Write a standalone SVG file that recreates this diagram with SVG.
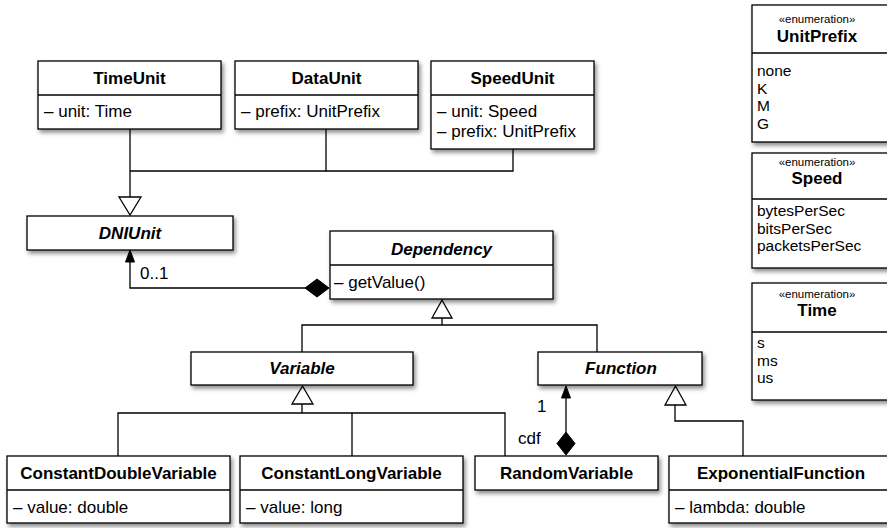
<svg xmlns="http://www.w3.org/2000/svg" width="887" height="528" viewBox="0 0 887 528">
<defs>
<filter id="sh" x="-10%" y="-10%" width="130%" height="140%">
<feDropShadow dx="2" dy="3" stdDeviation="2" flood-color="#000" flood-opacity="0.45"/>
</filter>
</defs>
<style>
.box{fill:#fff;stroke:#000;stroke-width:1.3;filter:url(#sh)}
.div{stroke:#000;stroke-width:1.3;fill:none}
.ln{stroke:#000;stroke-width:1.3;fill:none}
.tri{fill:#fff;stroke:#000;stroke-width:1.3}
.fill{fill:#000;stroke:#000;stroke-width:1}
text{font-family:"Liberation Sans",Arial,Helvetica,sans-serif;fill:#000}
.t{font-size:17px;font-weight:bold;text-anchor:middle}
.ti{font-size:17px;font-weight:bold;font-style:italic;text-anchor:middle}
.a{font-size:17px}
.e{font-size:15.5px}
.st{font-size:11.5px;text-anchor:middle}
</style>
<rect width="887" height="528" fill="#fff"/>

<g id="connectors">
<!-- TimeUnit/DataUnit/SpeedUnit -> DNIUnit -->
<path class="ln" d="M130,129 V197"/>
<path class="ln" d="M326,129 V171 H130"/>
<path class="ln" d="M513,149 V171 H326"/>
<polygon class="tri" points="119,197 141,197 130,215"/>
<!-- Dependency -> DNIUnit association -->
<path class="ln" d="M130,255 V288 H305"/>
<polygon class="fill" points="130,250 125.5,262 134.5,262"/>
<polygon class="fill" points="305,288 317,279 329,288 317,297"/>
<text class="a" x="140" y="279">0..1</text>
<!-- Variable/Function -> Dependency -->
<path class="ln" d="M442,318 V325"/>
<path class="ln" d="M302,352 V325 H597 V352"/>
<polygon class="tri" points="432,318 452,318 442,300"/>
<!-- Variable subclasses -->
<path class="ln" d="M302,404 V413"/>
<path class="ln" d="M118,456 V413 H505 V456"/>
<path class="ln" d="M352,413 V456"/>
<polygon class="tri" points="292,404 313,404 302.5,386"/>
<!-- RandomVariable cdf -> Function -->
<path class="ln" d="M566,392 V432"/>
<polygon class="fill" points="566,386 561.5,398 570.5,398"/>
<polygon class="fill" points="566,432 575,443.5 566,455 557,443.5"/>
<text class="a" x="537" y="412">1</text>
<text class="a" x="518" y="444">cdf</text>
<!-- ExponentialFunction -> Function -->
<path class="ln" d="M675,405 V421 H743 V456"/>
<polygon class="tri" points="665,405 686,405 675.5,386"/>
</g>

<g id="TimeUnit">
<rect class="box" x="38" y="61" width="183" height="68"/>
<line class="div" x1="38" y1="95" x2="221" y2="95"/>
<text class="t" x="129.5" y="84">TimeUnit</text>
<text class="a" x="44" y="117">– unit: Time</text>
</g>

<g id="DataUnit">
<rect class="box" x="235" y="61" width="183" height="68"/>
<line class="div" x1="235" y1="95" x2="418" y2="95"/>
<text class="t" x="326.5" y="84">DataUnit</text>
<text class="a" x="241" y="117">– prefix: UnitPrefix</text>
</g>

<g id="SpeedUnit">
<rect class="box" x="431" y="61" width="163" height="88"/>
<line class="div" x1="431" y1="95" x2="594" y2="95"/>
<text class="t" x="512.5" y="84">SpeedUnit</text>
<text class="a" x="437" y="117">– unit: Speed</text>
<text class="a" x="437" y="137">– prefix: UnitPrefix</text>
</g>

<g id="DNIUnit">
<rect class="box" x="27" y="216" width="206" height="34"/>
<text class="ti" x="130" y="239">DNIUnit</text>
</g>

<g id="Dependency">
<rect class="box" x="330" y="231" width="223" height="68"/>
<line class="div" x1="330" y1="265" x2="553" y2="265"/>
<text class="ti" x="441.5" y="255">Dependency</text>
<text class="a" x="334" y="288">– getValue()</text>
</g>

<g id="Variable">
<rect class="box" x="191" y="352" width="222" height="33"/>
<text class="ti" x="302" y="374">Variable</text>
</g>

<g id="Function">
<rect class="box" x="538" y="352" width="164" height="33"/>
<text class="ti" x="621" y="374">Function</text>
</g>

<g id="ConstantDoubleVariable">
<rect class="box" x="7" y="456" width="223" height="67"/>
<line class="div" x1="7" y1="490" x2="230" y2="490"/>
<text class="t" x="118.5" y="479">ConstantDoubleVariable</text>
<text class="a" x="13" y="513">– value: double</text>
</g>

<g id="ConstantLongVariable">
<rect class="box" x="240" y="456" width="223" height="67"/>
<line class="div" x1="240" y1="490" x2="463" y2="490"/>
<text class="t" x="351.5" y="479">ConstantLongVariable</text>
<text class="a" x="246" y="513">– value: long</text>
</g>

<g id="RandomVariable">
<rect class="box" x="475" y="456" width="183" height="34"/>
<text class="t" x="566.5" y="479">RandomVariable</text>
</g>

<g id="ExponentialFunction">
<rect class="box" x="669" y="456" width="222" height="67"/>
<line class="div" x1="669" y1="490" x2="891" y2="490"/>
<text class="t" x="781" y="479">ExponentialFunction</text>
<text class="a" x="675" y="513">– lambda: double</text>
</g>

<g id="UnitPrefix">
<rect class="box" x="752" y="5" width="139" height="137"/>
<line class="div" x1="752" y1="53" x2="891" y2="53"/>
<text class="st" x="817" y="23">«enumeration»</text>
<text class="t" x="817" y="42">UnitPrefix</text>
<text class="e" x="757" y="76">none</text>
<text class="e" x="757" y="93.5">K</text>
<text class="e" x="757" y="111">M</text>
<text class="e" x="757" y="128.5">G</text>
</g>

<g id="Speed">
<rect class="box" x="752" y="153" width="139" height="115"/>
<line class="div" x1="752" y1="199" x2="891" y2="199"/>
<text class="st" x="817" y="166">«enumeration»</text>
<text class="t" x="817" y="184">Speed</text>
<text class="e" x="757" y="216">bytesPerSec</text>
<text class="e" x="757" y="233.5">bitsPerSec</text>
<text class="e" x="757" y="251">packetsPerSec</text>
</g>

<g id="Time">
<rect class="box" x="752" y="283" width="139" height="117"/>
<line class="div" x1="752" y1="332" x2="891" y2="332"/>
<text class="st" x="817" y="298">«enumeration»</text>
<text class="t" x="817" y="316">Time</text>
<text class="e" x="757" y="348">s</text>
<text class="e" x="757" y="365.5">ms</text>
<text class="e" x="757" y="383">us</text>
</g>
</svg>
